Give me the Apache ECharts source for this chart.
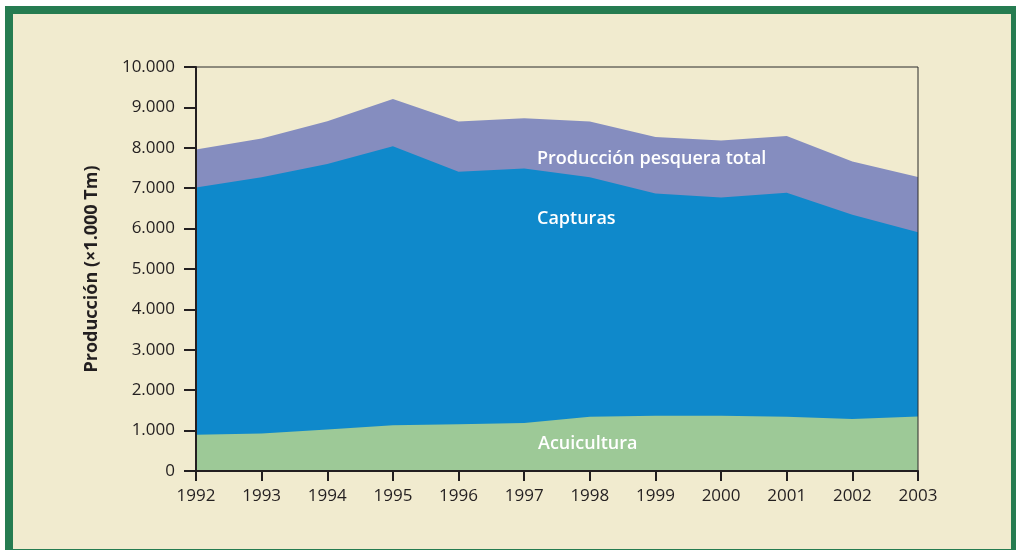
<!DOCTYPE html>
<html>
<head>
<meta charset="utf-8">
<script src="https://cdn.jsdelivr.net/npm/echarts@6/dist/echarts.min.js"></script>
<style>
html,body{margin:0;padding:0;background:#ffffff;}
#chart{width:1016px;height:550px;}
</style>
</head>
<body>
<div id="chart"></div>
<script>
// Data (×1.000 Tm)
var years = ['1992','1993','1994','1995','1996','1997','1998','1999','2000','2001','2002','2003'];
var total = [7960, 8230, 8660, 9210, 8650, 8730, 8650, 8270, 8180, 8290, 7660, 7280];
var capturas = [7020, 7270, 7600, 8040, 7410, 7490, 7270, 6870, 6770, 6890, 6340, 5910];
var acuicultura = [900, 930, 1030, 1130, 1160, 1190, 1340, 1370, 1370, 1340, 1290, 1350];
var yTicks = [0, 1000, 2000, 3000, 4000, 5000, 6000, 7000, 8000, 9000, 10000];
var areaLabels = ['Producción pesquera total', 'Capturas', 'Acuicultura'];
var yAxisName = 'Producción (×1.000 Tm)';

var FONT = '"Open Sans", "Noto Sans", sans-serif';
function fmt(v){ return String(v).replace(/\B(?=(\d{3})+(?!\d))/g, '.'); }

var chart = echarts.init(document.getElementById('chart'), null, {renderer:'canvas'});
var areaSeries = function(name, data, color, z){
  return {
    name: name, type: 'line', data: data, symbol: 'none', smooth: false,
    lineStyle: {width: 0}, areaStyle: {color: color, opacity: 1}, z: z,
    emphasis: {disabled: true}, silent: true
  };
};
chart.setOption({
  backgroundColor: '#ffffff',
  animation: false,
  graphic: [
    {type: 'rect', shape: {x: 9, y: 10, width: 1006, height: 543}, style: {fill: '#f1ebcf', stroke: '#267c51', lineWidth: 8}, z: -10},
    {type: 'text', left: 537, top: 150, style: {text: areaLabels[0], fill: '#ffffff', font: '600 18px ' + FONT}, z: 100},
    {type: 'text', left: 537, top: 210, style: {text: areaLabels[1], fill: '#ffffff', font: '600 18px ' + FONT}, z: 100},
    {type: 'text', left: 538, top: 435, style: {text: areaLabels[2], fill: '#ffffff', font: '600 18px ' + FONT}, z: 100}
  ],
  grid: {left: 196, right: 98, top: 67, bottom: 79, show: true, borderColor: '#2b2b2b', borderWidth: 1, backgroundColor: 'transparent', z: 10},
  xAxis: {
    type: 'category', data: years, boundaryGap: false,
    axisLine: {lineStyle: {color: '#231f20', width: 2}},
    axisTick: {show: true, length: 10, alignWithLabel: true, lineStyle: {color: '#231f20', width: 2}},
    axisLabel: {color: '#231f20', fontFamily: FONT, fontSize: 17, margin: 17},
    splitLine: {show: false},
    z: 20
  },
  yAxis: {
    type: 'value', min: yTicks[0], max: yTicks[yTicks.length-1], interval: 1000,
    name: yAxisName, nameLocation: 'middle', nameGap: 95,
    nameTextStyle: {color: '#231f20', fontFamily: FONT, fontSize: 18, fontWeight: 'bold'},
    axisLine: {show: true, lineStyle: {color: '#231f20', width: 2}},
    axisTick: {show: true, length: 12, lineStyle: {color: '#231f20', width: 2}},
    axisLabel: {color: '#231f20', fontFamily: FONT, fontSize: 17, margin: 21, formatter: fmt},
    splitLine: {show: false},
    z: 20
  },
  series: [
    areaSeries('Total', total, '#858dbf', 2),
    areaSeries('Capturas', capturas, '#0f89cb', 3),
    areaSeries('Acuicultura', acuicultura, '#9dc997', 4)
  ]
});
</script>
</body>
</html>
